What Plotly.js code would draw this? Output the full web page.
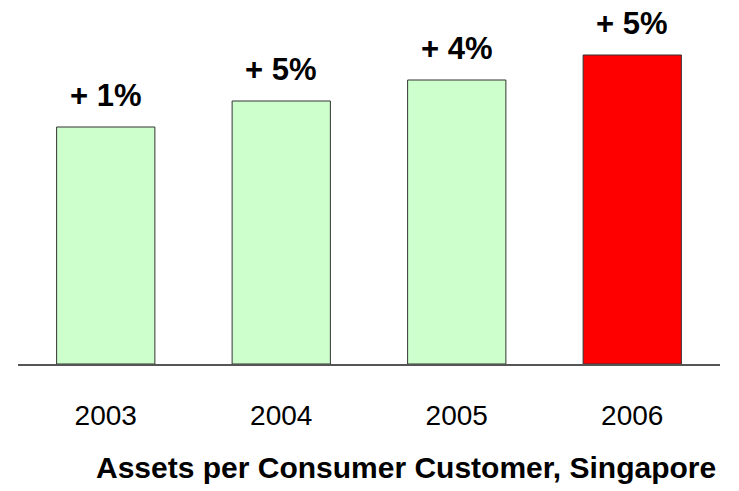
<!DOCTYPE html>
<html>
<head>
<meta charset="utf-8">
<script src="https://cdn.plot.ly/plotly-3.0.1.min.js"></script>
<style>html,body{margin:0;padding:0;background:#fff;}#chart{width:739px;height:491px;}</style>
</head>
<body>
<div id="chart"></div>
<script>
var years = ['2003', '2004', '2005', '2006'];
var values = [237, 263, 284, 309];
var growthLabels = ['+ 1%', '+ 5%', '+ 4%', '+ 5%'];
var barColors = ['#CCFFCC', '#CCFFCC', '#CCFFCC', '#FF0000'];
var chartTitle = 'Assets per Consumer Customer, Singapore';

var trace = {
  type: 'bar',
  x: years,
  y: values,
  width: 0.56,
  marker: {color: barColors, line: {color: '#333333', width: 1}},
  hoverinfo: 'none'
};

var annotations = years.map(function (yr, i) {
  return {
    x: i, y: values[i], xref: 'x', yref: 'y',
    text: '<b>' + growthLabels[i] + '</b>',
    showarrow: false, yanchor: 'middle', yshift: 32,
    font: {family: 'Liberation Sans, Arial, sans-serif', size: 31, color: '#000'}
  };
});
annotations.push({
  x: 0.553, y: -0.283, xref: 'paper', yref: 'paper',
  text: '<b>' + chartTitle + '</b>', showarrow: false,
  xanchor: 'center', yanchor: 'middle',
  font: {family: 'Liberation Sans, Arial, sans-serif', size: 30, color: '#000'}
});

var layout = {
  width: 739, height: 491,
  margin: {l: 18, r: 19, t: 0, b: 127, pad: 0},
  paper_bgcolor: '#fff', plot_bgcolor: '#fff',
  showlegend: false,
  xaxis: {
    type: 'category', range: [-0.5, 3.5],
    showline: true, linecolor: '#555555', linewidth: 1.5,
    showgrid: false, zeroline: false, ticks: '',
    ticklabelstandoff: 26,
    tickfont: {family: 'Liberation Sans, Arial, sans-serif', size: 28, color: '#000'}
  },
  yaxis: {
    range: [0, 364], visible: false, showgrid: false, zeroline: false
  },
  annotations: annotations
};

Plotly.newPlot('chart', [trace], layout, {displayModeBar: false, staticPlot: true});
</script>
</body>
</html>
